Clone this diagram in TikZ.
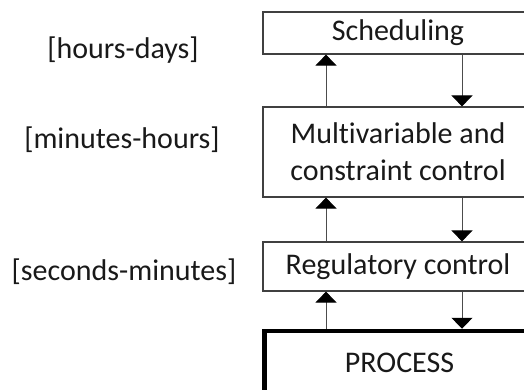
\documentclass[tikz,border=0pt]{standalone}
\usepackage{fontspec}
\setmainfont{Carlito}[Ligatures={NoCommon,NoRare,NoContextual},Contextuals=NoAlternate]
\usetikzlibrary{arrows.meta}

\begin{document}
\begin{tikzpicture}[x=1pt,y=-1pt,
  every node/.style={font=\fontsize{30}{37}\selectfont, text=black!90},
  levelbox/.style={draw=black!75, line width=1.2pt, minimum width=270pt,
    align=center, inner sep=0pt},
  processbox/.style={draw=black, line width=4.5pt, minimum width=270pt,
    inner sep=0pt},
  timescale/.style={inner sep=0pt},
  flow/.style={draw=black!70, line width=1pt,
    -{Triangle[width=21pt,length=11pt,fill=black,color=black]}}
]
  \useasboundingbox (0,0) rectangle (524,389);
  \clip (0,0) rectangle (524,389);

  % control hierarchy, running off the right and bottom edges
  \node[levelbox, minimum height=42pt] (sched) at (398,33) {Scheduling};
  \node[levelbox, minimum height=90pt] (multi) at (398,152)
    {Mult\kern0pt ivariable and\\constraint control};
  \node[levelbox, minimum height=49pt] (reg) at (398,266.5) {Regulatory control};
  \node[processbox, minimum height=64pt] (proc) at (399.5,363) {PROCESS};

  % time scales of each layer
  \node[timescale] (tsched) at (123,50) {[hours-days]};
  \node[timescale] (tmulti) at (122,140) {[minutes-hours]};
  \node[timescale] (treg) at (124,272) {[seconds-minutes]};

  % information flows between layers
  \coordinate (up) at (326,0);
  \coordinate (down) at (462,0);
  \draw[flow] (multi.north -| up) -- (sched.south -| up);
  \draw[flow] (sched.south -| down) -- (multi.north -| down);
  \draw[flow] (reg.north -| up) -- (multi.south -| up);
  \draw[flow] (multi.south -| down) -- (reg.north -| down);
  \draw[flow] (proc.north -| up) -- (reg.south -| up);
  \draw[flow] (reg.south -| down) -- (proc.north -| down);
\end{tikzpicture}
\end{document}
